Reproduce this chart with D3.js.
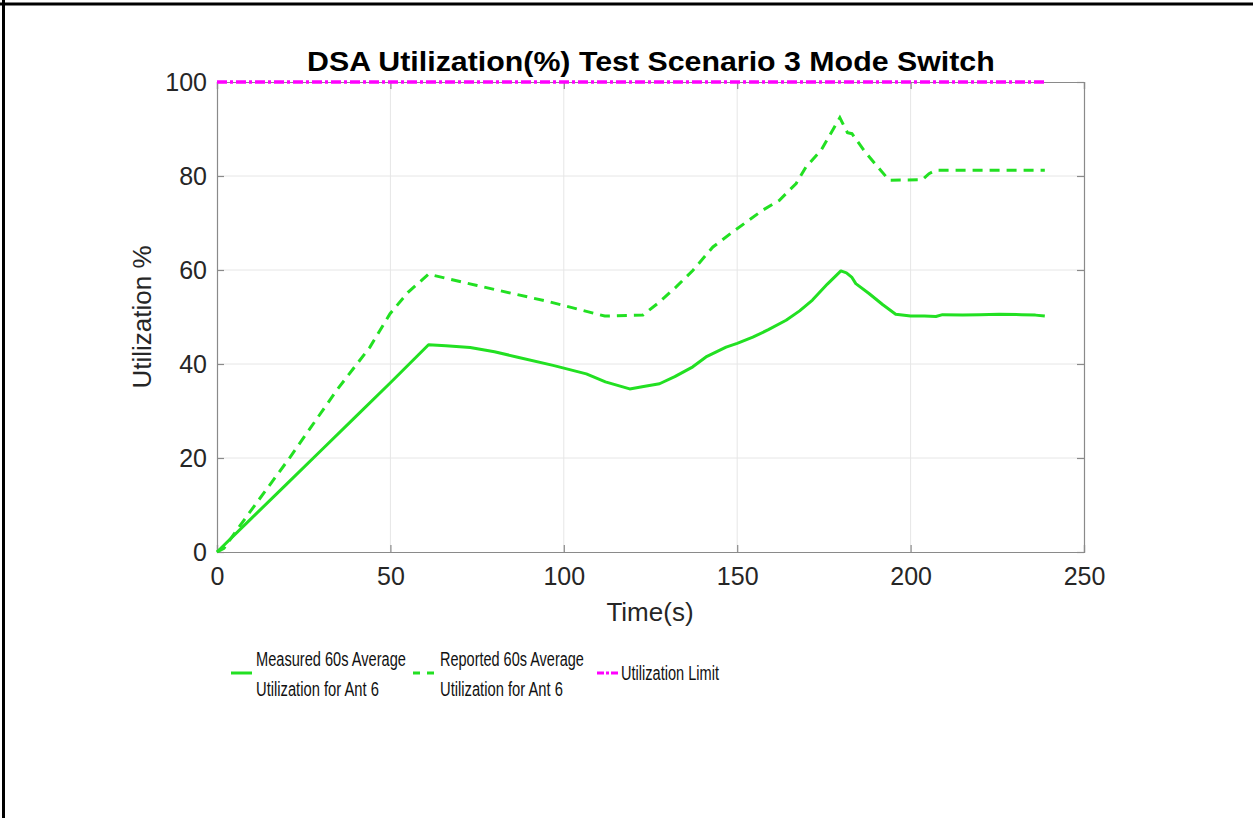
<!DOCTYPE html>
<html>
<head>
<meta charset="utf-8">
<script src="https://cdn.jsdelivr.net/npm/d3@7"></script>
<style>
  body { margin: 0; background: #fff; }
  svg { display: block; font-family: "Liberation Sans", Arial, Helvetica, sans-serif; }
</style>
</head>
<body>
<svg width="1253" height="818"></svg>
<script>
// measured 60s average (solid)
var measuredTime = [0, 10, 20, 30, 40, 50, 61, 66, 73, 80, 86.4, 96.9, 106.5, 112, 119, 123, 127.6, 132, 137.2, 141, 146.8, 150, 154.5, 159, 164.1, 168, 171.7, 176, 179.9, 181.5, 183, 184.2, 188, 192, 195.7, 200, 204, 207.3, 209.2, 215, 220, 225.5, 232, 236, 238.7];
var measuredVal = [0, 7.2, 14.4, 21.6, 28.8, 36, 44.1, 43.9, 43.5, 42.6, 41.5, 39.7, 37.9, 36.2, 34.7, 35.2, 35.8, 37.3, 39.4, 41.5, 43.6, 44.4, 45.7, 47.3, 49.3, 51.3, 53.6, 57, 59.8, 59.4, 58.5, 57.1, 55, 52.6, 50.6, 50.2, 50.2, 50.1, 50.5, 50.4, 50.5, 50.6, 50.5, 50.4, 50.2];

// reported 60s average (dashed)
var reportedTime = [0, 2, 7.7, 21.1, 34.5, 44.1, 49.9, 55, 61, 75, 96, 111.8, 122.8, 127.6, 132.4, 137.2, 143, 148.7, 157.3, 162.1, 167, 169.8, 174.2, 179.6, 181.8, 183.1, 187, 193.8, 203.4, 205.3, 207.3, 215, 225, 238.7];
var reportedVal = [0, 0.8, 6.7, 20.2, 34.4, 43.6, 50.7, 55.2, 59.1, 56.7, 53.2, 50.2, 50.4, 53.2, 56.4, 59.9, 64.9, 68.1, 72.7, 74.8, 78.4, 81.9, 85.5, 92.4, 89.2, 89, 85, 79.1, 79.2, 80.5, 81.2, 81.2, 81.2, 81.2];

// utilization limit
var limitTime = [0, 238.7];
var limitVal = [100, 100];

var xTicks = [0, 50, 100, 150, 200, 250];
var yTicks = [0, 20, 40, 60, 80, 100];

var legendLabels = [
  ["Measured 60s Average", "Utilization for Ant 6"],
  ["Reported 60s Average", "Utilization for Ant 6"],
  ["Utilization Limit"]
];

var green = "#22e022",
  magenta = "#ff00ff",
  axisGray = "#8a8a8a";

var svg = d3.select("svg");

// outer frame (top and left only)
svg.append("line").attr("x1", 0).attr("x2", 1253).attr("y1", 4).attr("y2", 4)
  .attr("stroke", "#000").attr("stroke-width", 3);
svg.append("line").attr("x1", 3.5).attr("x2", 3.5).attr("y1", 0).attr("y2", 818)
  .attr("stroke", "#000").attr("stroke-width", 3);

var plotLeft = 217, plotRight = 1084, plotTop = 82, plotBottom = 552;

var x = d3.scaleLinear().domain([0, 250]).range([plotLeft, plotRight]);
var y = d3.scaleLinear().domain([0, 100]).range([plotBottom, plotTop]);

var plot = svg.append("g");

// grid
plot.append("g").selectAll("line").data(xTicks.slice(1, -1)).enter().append("line")
  .attr("x1", function(d) { return x(d); })
  .attr("x2", function(d) { return x(d); })
  .attr("y1", plotTop).attr("y2", plotBottom)
  .attr("stroke", "#e6e6e6").attr("stroke-width", 1);
plot.append("g").selectAll("line").data(yTicks.slice(1, -1)).enter().append("line")
  .attr("y1", function(d) { return y(d); })
  .attr("y2", function(d) { return y(d); })
  .attr("x1", plotLeft).attr("x2", plotRight)
  .attr("stroke", "#e6e6e6").attr("stroke-width", 1);

// axes with inward ticks on all four sides
var xAxis = d3.axisBottom(x).tickValues(xTicks).tickSize(-7).tickPadding(15).tickFormat(d3.format("d"));
var yAxis = d3.axisLeft(y).tickValues(yTicks).tickSize(-7).tickPadding(10).tickFormat(d3.format("d"));

function styleAxis(g, showText) {
  g.select(".domain").attr("stroke", axisGray).attr("stroke-width", 1.2);
  g.selectAll(".tick line").attr("stroke", axisGray).attr("stroke-width", 1.2);
  g.selectAll(".tick text").attr("fill", "#262626").attr("font-size", 25)
    .style("display", showText ? null : "none");
}

plot.append("g").attr("transform", "translate(0," + plotBottom + ")").call(xAxis)
  .call(function(g) { styleAxis(g, true); });
plot.append("g").attr("transform", "translate(0," + plotTop + ")")
  .call(d3.axisTop(x).tickValues(xTicks).tickSize(-7).tickFormat(""))
  .call(function(g) { styleAxis(g, false); });
plot.append("g").attr("transform", "translate(" + plotLeft + ",0)").call(yAxis)
  .call(function(g) { styleAxis(g, true); });
plot.append("g").attr("transform", "translate(" + plotRight + ",0)")
  .call(d3.axisRight(y).tickValues(yTicks).tickSize(-7).tickFormat(""))
  .call(function(g) { styleAxis(g, false); });

// series
var line = d3.line()
  .x(function(d) { return x(d[0]); })
  .y(function(d) { return y(d[1]); });

plot.append("path")
  .datum(d3.zip(measuredTime, measuredVal))
  .attr("d", line).attr("fill", "none")
  .attr("stroke", green).attr("stroke-width", 3).attr("stroke-linejoin", "round");

plot.append("path")
  .datum(d3.zip(reportedTime, reportedVal))
  .attr("d", line).attr("fill", "none")
  .attr("stroke", green).attr("stroke-width", 3).attr("stroke-dasharray", "10,7");

plot.append("path")
  .datum(d3.zip(limitTime, limitVal))
  .attr("d", line).attr("fill", "none")
  .attr("stroke", magenta).attr("stroke-width", 3.5).attr("stroke-dasharray", "10,3,3,3");

// squeeze a text horizontally so it spans the given width (reference font is condensed)
function condensed(parent, px, py, width, size, str, bold) {
  var g = parent.append("g");
  var t = g.append("text")
    .attr("font-size", size)
    .attr("font-weight", bold ? "bold" : null)
    .attr("fill", bold ? "#000" : "#111")
    .text(str);
  var natural = t.node().getComputedTextLength();
  g.attr("transform", "translate(" + px + "," + py + ") scale(" + (width / natural) + ",1)");
  return g;
}

// title and axis labels
condensed(svg, 307, 71, 688, 28, "DSA Utilization(%) Test Scenario 3 Mode Switch", true);

svg.append("text")
  .attr("x", 650).attr("y", 621)
  .attr("text-anchor", "middle")
  .attr("font-size", 26).attr("fill", "#262626")
  .text("Time(s)");

svg.append("text")
  .attr("transform", "translate(151," + (plotTop + plotBottom) / 2 + ") rotate(-90)")
  .attr("text-anchor", "middle")
  .attr("font-size", 26).attr("fill", "#262626")
  .text("Utilization %");

// legend
var legendItems = [
  { sx: 231, tx: 256, w: [150, 123], stroke: green, dash: null },
  { sx: 413, tx: 440, w: [144, 123], stroke: green, dash: "7,7" },
  { sx: 597, tx: 621, w: [98], stroke: magenta, dash: "7,2,3,2" }
];

legendItems.forEach(function(item, i) {
  var g = svg.append("g");
  g.append("line")
    .attr("x1", item.sx).attr("x2", item.sx + 21)
    .attr("y1", 673).attr("y2", 673)
    .attr("stroke", item.stroke).attr("stroke-width", 3)
    .attr("stroke-dasharray", item.dash);
  var lines = legendLabels[i];
  var y0 = lines.length === 2 ? 666 : 680;
  lines.forEach(function(t, j) {
    condensed(g, item.tx, y0 + j * 30, item.w[j], 21, t, false);
  });
});
</script>
</body>
</html>
